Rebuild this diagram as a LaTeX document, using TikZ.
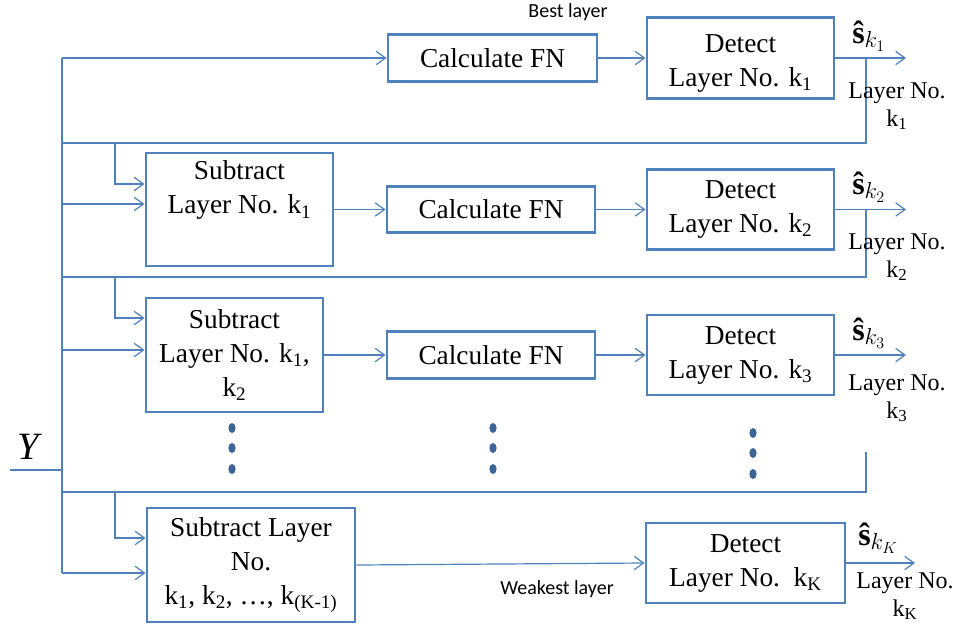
\documentclass[tikz,border=0pt]{standalone}
\usepackage{fontspec}
\setmainfont{Liberation Serif}
\newfontfamily\calfont{Carlito}
\usetikzlibrary{arrows.meta}
\definecolor{lineblue}{HTML}{4F81BD}
\definecolor{dotblue}{HTML}{3C6496}
\newcommand{\ks}[1]{k\textsubscript{#1}}
\newcommand{\shat}[1]{$\mbox{\bfseries ŝ}_{#1}$}
\begin{document}
\begin{tikzpicture}[x=0.75pt,y=-0.75pt,
  box/.style={draw=lineblue,line width=2.2pt,inner sep=0pt,align=center,
    font=\fontsize{20.5}{25.5}\selectfont},
  conn/.style={draw=lineblue,line width=0.9pt},
  arr/.style={conn,-{Straight Barb[length=7pt,width=10pt,line width=0.9pt]}},
  outlbl/.style={align=center,font=\fontsize{18}{21}\selectfont},
  hatlbl/.style={anchor=base west,inner sep=0pt,font=\fontsize{24}{26}\selectfont},
  side/.style={font=\calfont\fontsize{15}{18}\selectfont}
]
\useasboundingbox (0,0) rectangle (959,628);

% boxes
\node[box,minimum width=209*0.75pt,minimum height=47*0.75pt] (calc1) at (492.5,58) {Calculate FN};
\node[box,minimum width=187*0.75pt,minimum height=81*0.75pt] (det1) at (740.5,58) {\\[-4pt]Detect\\Layer No. \ks{1}};
\node[box,minimum width=187*0.75pt,minimum height=113*0.75pt] (sub1) at (239.5,209.5) {Subtract\\Layer No. \ks{1}\\\strut};
\node[box,minimum width=208*0.75pt,minimum height=46*0.75pt] (calc2) at (491,209.5) {Calculate FN};
\node[box,minimum width=187*0.75pt,minimum height=80*0.75pt] (det2) at (740.5,209.5) {Detect\\Layer No. \ks{2}};
\node[box,minimum width=177*0.75pt,minimum height=114*0.75pt] (sub2) at (234.5,355) {Subtract\\Layer No. \ks{1},\\\ks{2}};
\node[box,minimum width=208*0.75pt,minimum height=47*0.75pt] (calc3) at (491,355) {Calculate FN};
\node[box,minimum width=187*0.75pt,minimum height=80*0.75pt] (det3) at (740.5,355) {Detect\\Layer No. \ks{3}};
\node[box,minimum width=208*0.75pt,minimum height=114*0.75pt] (subK) at (251,565) {Subtract Layer\\No.\\\ks{1}, \ks{2}, \dots, \ks{(K-1)}};
\node[box,minimum width=199*0.75pt,minimum height=80*0.75pt] (detK) at (745.5,563) {Detect\\Layer No.\ \ \ks{K}};

% coordinates
\coordinate (yin) at (10,470);
\coordinate (yj) at (62,470);
\coordinate (bt) at (62,58);
\coordinate (bb) at (62,573);
\coordinate (o1) at (906,58);
\coordinate (o2) at (906,209.5);
\coordinate (o3) at (906,355);
\coordinate (oK) at (915,563);
\coordinate (f1a) at (866,58);
\coordinate (f1b) at (866,143);
\coordinate (f1c) at (62,143);
\coordinate (f2a) at (866,209.5);
\coordinate (f2b) at (866,277);
\coordinate (f2c) at (62,277);
\coordinate (f3a) at (866,452);
\coordinate (f3b) at (866,492);
\coordinate (f3c) at (62,492);
\coordinate (b1) at (115,143);
\coordinate (b1e) at (115,184);
\coordinate (b2) at (115,277);
\coordinate (b2e) at (115,318);
\coordinate (b3) at (115,492);
\coordinate (b3e) at (115,538);
\coordinate (s1) at (62,204);
\coordinate (s2) at (62,350);
\coordinate (sK) at (62,573);

% bus
\draw[conn] (yin) -- (yj);
\draw[conn] (bt) -- (bb);
\draw[arr] (bt) -- (calc1.west);
\draw[arr] (calc1) -- (det1);
\draw[arr] (det1.east) -- (o1);
\draw[conn] (f1a) -- (f1b) -- (f1c);
\draw[arr] (b1) -- (b1e) -- (sub1.west |- b1e);
\draw[arr] (s1) -- (sub1.west |- s1);
\draw[arr] (sub1.east) -- (calc2.west);
\draw[arr] (calc2) -- (det2);
\draw[arr] (det2.east) -- (o2);
\draw[conn] (f2a) -- (f2b) -- (f2c);
\draw[arr] (b2) -- (b2e) -- (sub2.west |- b2e);
\draw[arr] (s2) -- (sub2.west |- s2);
\draw[arr] (sub2.east) -- (calc3.west);
\draw[arr] (calc3) -- (det3);
\draw[arr] (det3.east) -- (o3);
\draw[conn] (f3a) -- (f3b) -- (f3c);
\draw[arr] (b3) -- (b3e) -- (subK.west |- b3e);
\draw[arr] (sK) -- (subK.west |- sK);
\draw[arr] (subK.east) -- (detK.west);
\draw[arr] (detK.east) -- (oK);

% dots
\foreach \x/\y in {232/428,232/448,232/469,493/428,493/448,493/469,753/433,753/453,753/474}
  \fill[dotblue] (\x,\y) ellipse [x radius=3.6,y radius=5];

% labels
\node[font=\fontsize{29}{30}\selectfont\itshape] (Ylbl) at (28,447) {Y};
\node[side] (best) at (568,12) {Best layer};
\node[side] (weak) at (557,589) {Weakest layer};
\node[hatlbl] (h1) at (852,43) {\shat{k_1}};
\node[hatlbl] (h2) at (852,194) {\shat{k_2}};
\node[hatlbl] (h3) at (852,340) {\shat{k_3}};
\node[hatlbl] (hK) at (858,545) {\shat{k_K}};
\node[outlbl] (l1) at (897,106) {Layer No.\\\ks{1}};
\node[outlbl] (l2) at (897,257) {Layer No.\\\ks{2}};
\node[outlbl] (l3) at (897,398) {Layer No.\\\ks{3}};
\node[outlbl] (lK) at (905,596) {Layer No.\\\ks{K}};
\end{tikzpicture}
\end{document}
